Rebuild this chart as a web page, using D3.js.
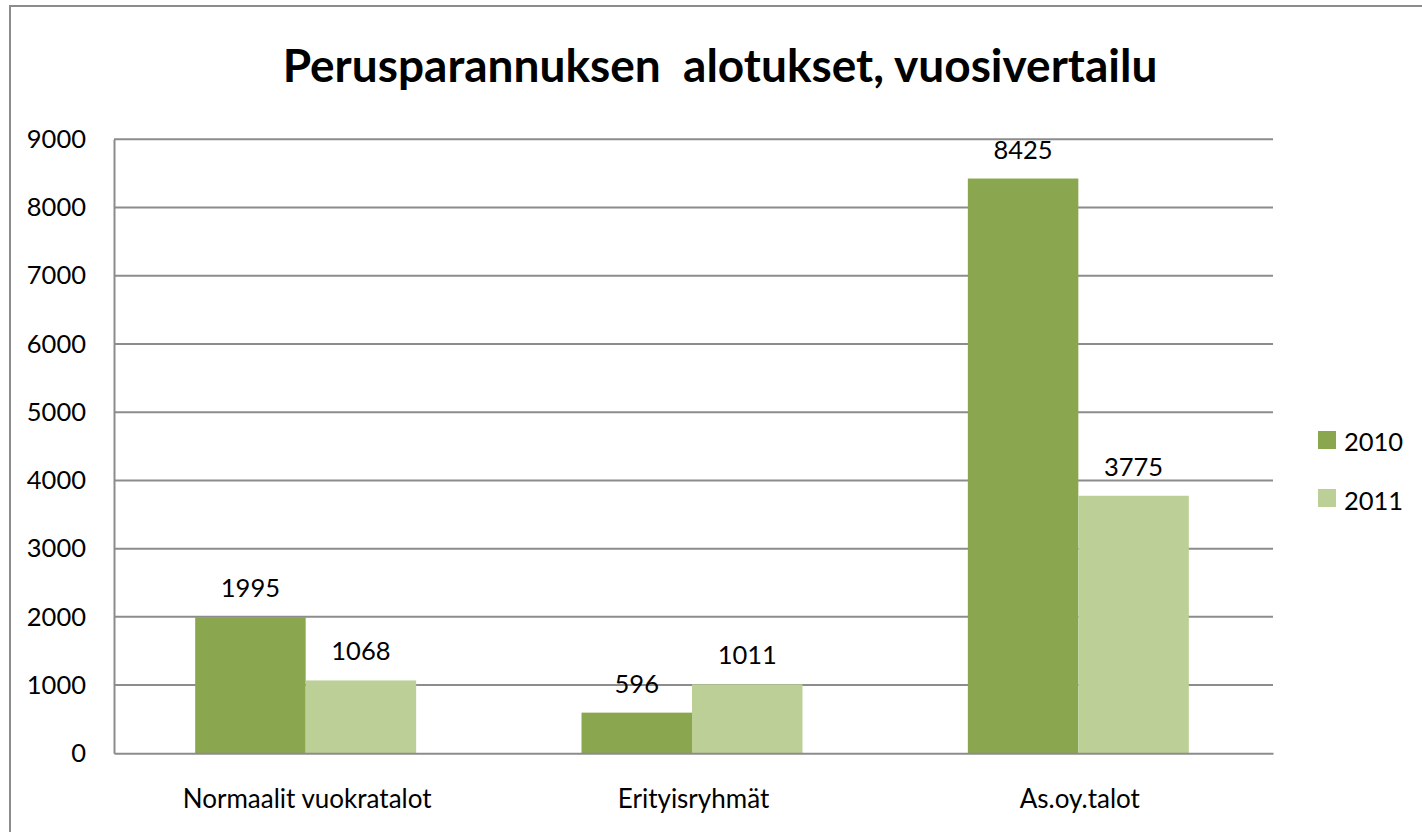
<!DOCTYPE html>
<html><head><meta charset="utf-8">
<script src="https://cdn.jsdelivr.net/npm/d3@7"></script>
<style>body{margin:0;background:#fff}svg{display:block}text{font-family:Lato,"Open Sans",sans-serif;fill:#000}</style>
</head><body>
<svg id="c" width="1422" height="832"></svg>
<script>
const categories = ["Normaalit vuokratalot", "Erityisryhmät", "As.oy.talot"];
const seriesNames = ["2010", "2011"];
const values2010 = [1995, 596, 8425];
const values2011 = [1068, 1011, 3775];
const yTicks = [0, 1000, 2000, 3000, 4000, 5000, 6000, 7000, 8000, 9000];
const title = "Perusparannuksen  alotukset, vuosivertailu";
const colors = ["#8AA64F", "#BBCF96"];

(function(){
const svg = d3.select("#c");
svg.append("rect").attr("x",10).attr("y",6).attr("width",1430).attr("height",840)
  .attr("fill","#fff").attr("stroke","#8c8c8c").attr("stroke-width",2);

const pL=114, pR=1273, pT=139.3, pB=753.3;
const x = d3.scaleBand().domain(categories).range([pL,pR]).paddingInner(0).paddingOuter(0);
const y = d3.scaleLinear().domain([0,9000]).range([pB,pT]);
const groupFrac = 0.572;
const xs = d3.scaleBand().domain(seriesNames).range([0, x.bandwidth()*groupFrac]);
const off = (x.bandwidth() - x.bandwidth()*groupFrac)/2 - 1.5;

svg.append("text").attr("x",720).attr("y",82).attr("text-anchor","middle")
  .style("white-space","pre").attr("xml:space","preserve")
  .attr("font-weight","bold").attr("font-size",46).text(title);

svg.append("g").selectAll("line").data(yTicks.filter(d=>d>0)).join("line")
  .attr("x1",pL).attr("x2",pR).attr("y1",d=>y(d)).attr("y2",d=>y(d))
  .attr("stroke","#8c8c8c").attr("stroke-width",2);

const series = [values2010, values2011];
series.forEach((vals,si)=>{
  const g = svg.append("g");
  g.selectAll("rect").data(categories).join("rect")
    .attr("x",(c)=>x(c)+off+xs(seriesNames[si])).attr("width",xs.bandwidth())
    .attr("y",(c,i)=>y(vals[i])).attr("height",(c,i)=>pB-y(vals[i]))
    .attr("fill",colors[si]);
  g.selectAll("text").data(categories).join("text")
    .attr("x",(c)=>x(c)+off+xs(seriesNames[si])+xs.bandwidth()/2)
    .attr("y",(c,i)=>y(vals[i])-20).attr("text-anchor","middle").attr("font-size",25.5)
    .text((c,i)=>vals[i]);
});

const ya = svg.append("g").attr("transform",`translate(${pL},0)`)
  .call(d3.axisLeft(y).tickValues(yTicks).tickSize(0).tickPadding(28).tickFormat(d3.format("d")));
ya.select(".domain").attr("stroke","#8c8c8c").attr("stroke-width",2);
ya.selectAll("text").attr("font-size",25.5).attr("font-family","Lato,sans-serif").attr("fill","#000");

const xa = svg.append("g").attr("transform",`translate(0,${pB})`)
  .call(d3.axisBottom(x).tickSize(0).tickPadding(36));
xa.select(".domain").attr("stroke","#8c8c8c").attr("stroke-width",2);
xa.selectAll("text").attr("font-size",26).attr("font-family","Lato,sans-serif").attr("fill","#000");

const lg = svg.append("g");
seriesNames.forEach((s,i)=>{
  lg.append("rect").attr("x",1318).attr("y",431+i*58).attr("width",18).attr("height",18).attr("fill",colors[i]);
  lg.append("text").attr("x",1344).attr("y",451+i*59).attr("font-size",25.5).text(s);
});
})();
</script>
</body></html>
